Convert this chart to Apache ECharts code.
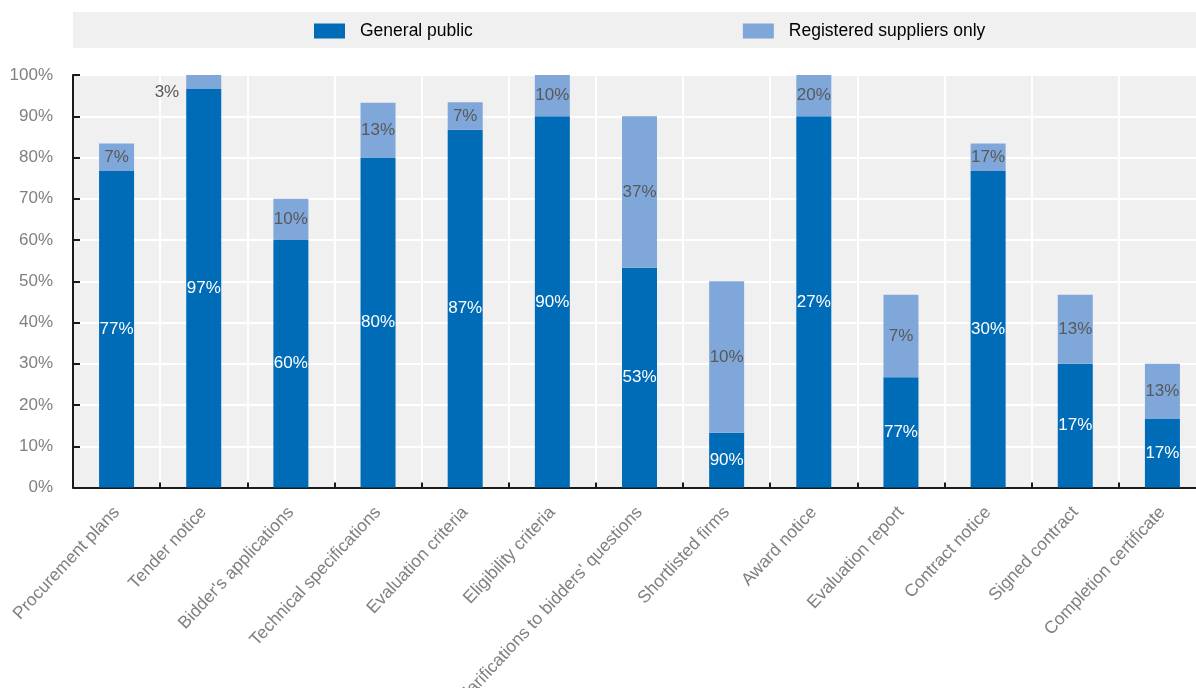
<!DOCTYPE html>
<html>
<head>
<meta charset="utf-8">
<script src="https://cdn.jsdelivr.net/npm/echarts@6/dist/echarts.min.js"></script>
<style>
html,body{margin:0;padding:0;background:#fff;}
#chart{width:1196px;height:688px;}
</style>
</head>
<body>
<div id="chart"></div>
<script>
const categories = ["Procurement plans","Tender notice","Bidder's applications","Technical specifications","Evaluation criteria","Eligibility criteria","Clarifications to bidders' questions","Shortlisted firms","Award notice","Evaluation report","Contract notice","Signed contract","Completion certificate"];
const generalPublic = [76.7, 96.7, 60, 80, 86.7, 90, 53.3, 13.3, 90, 26.7, 76.7, 30, 16.7];
const registeredOnly = [6.7, 3.3, 10, 13.3, 6.7, 10, 36.7, 36.7, 10, 20, 6.7, 16.7, 13.3];
const generalLabels = ["77%","97%","60%","80%","87%","90%","53%","90%","27%","77%","30%","17%","17%"];
const registeredLabels = ["7%","3%","10%","13%","7%","10%","37%","10%","20%","7%","17%","13%","13%"];
const seriesNames = ["General public","Registered suppliers only"];

const FONT = "'Liberation Sans',Arial,sans-serif";
const chart = echarts.init(document.getElementById('chart'));
chart.setOption({
  animation: false,
  textStyle: {fontFamily: FONT},
  graphic: [{
    type: 'rect', left: 73, top: 12, z: -10,
    shape: {width: 1130, height: 36},
    style: {fill: '#f0f0f0'}
  }],
  legend: {
    left: 314, top: 22, padding: 0,
    itemWidth: 31, itemHeight: 15, itemGap: 270,
    icon: 'rect',
    data: seriesNames,
    textStyle: {fontSize: 17.5, color: '#000', fontFamily: FONT, padding: [0,0,0,10]}
  },
  grid: {
    left: 73, top: 75, width: 1133, height: 412.5,
    show: true, backgroundColor: '#f0f0f0', borderWidth: 0,
    containLabel: false, outerBoundsMode: 'none'
  },
  xAxis: {
    type: 'category', data: categories, boundaryGap: true,
    axisLine: {show: true, lineStyle: {color: '#1a1a1a', width: 2}},
    axisTick: {show: true, inside: true, length: 5, alignWithLabel: false, lineStyle: {color: '#1a1a1a', width: 2}},
    splitLine: {show: true, lineStyle: {color: '#ffffff', width: 2}},
    axisLabel: {rotate: 47, interval: 0, margin: 22, fontSize: 17.5, color: '#808080', fontFamily: FONT}
  },
  yAxis: {
    type: 'value', min: 0, max: 100, interval: 10,
    axisLine: {show: true, lineStyle: {color: '#1a1a1a', width: 2}},
    axisTick: {show: true, inside: true, length: 7, lineStyle: {color: '#1a1a1a', width: 2}},
    splitLine: {show: true, lineStyle: {color: '#ffffff', width: 2}},
    axisLabel: {formatter: '{value}%', margin: 20, fontSize: 17, color: '#808080', fontFamily: FONT}
  },
  series: [{
    name: seriesNames[0], type: 'bar', stack: 'total', barWidth: 35,
    data: generalPublic,
    itemStyle: {color: '#006BB6'},
    label: {show: true, position: 'inside', color: '#ffffff', fontSize: 17, fontFamily: FONT,
      formatter: p => generalLabels[p.dataIndex]}
  }, {
    name: seriesNames[1], type: 'bar', stack: 'total', barWidth: 35,
    data: registeredOnly.map((v, i) => v < 5 ? {value: v, label: {position: 'left', distance: 7, offset: [0, 11]}} : v),
    itemStyle: {color: '#7FA7D9'},
    label: {show: true, position: 'inside', color: '#595959', fontSize: 17, fontFamily: FONT,
      formatter: p => registeredLabels[p.dataIndex]}
  }]
});
</script>
</body>
</html>
